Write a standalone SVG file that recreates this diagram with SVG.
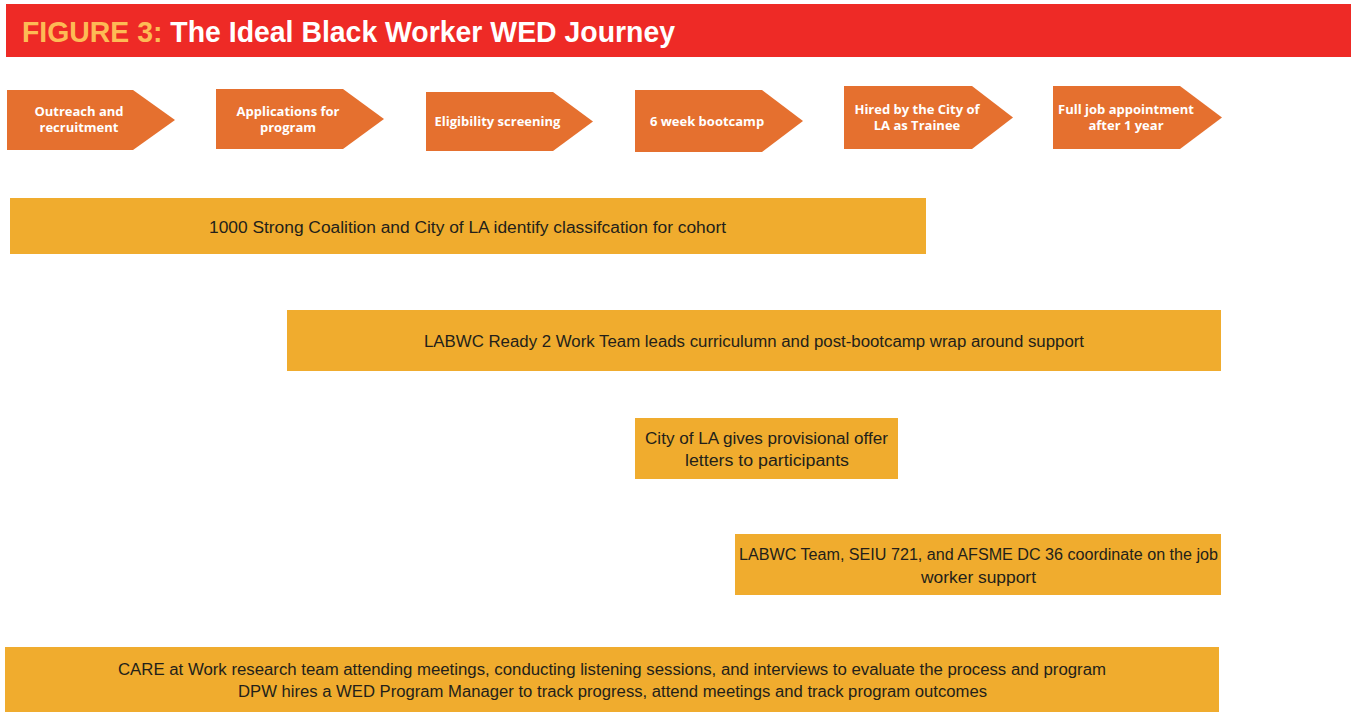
<svg xmlns="http://www.w3.org/2000/svg" width="1351" height="712" viewBox="0 0 1351 712">
<style>
.step{fill:#E5702F}
.stxt{font-family:"Open Sans","Liberation Sans",sans-serif;font-weight:700;font-size:13px;fill:#ffffff;text-anchor:middle}
.bar{fill:#F0AC2E}
.btxt{font-family:"Liberation Sans",Arial,sans-serif;font-size:16px;fill:#231f1a;text-anchor:middle}
</style>
<rect x="0" y="0" width="1351" height="712" fill="#ffffff"/>
<g id="title">
<rect x="6" y="4" width="1345" height="53" fill="#EE2A26"/>
<text x="22" y="42" font-family="'Liberation Sans',Arial,sans-serif" font-weight="700" font-size="30" textLength="653" lengthAdjust="spacingAndGlyphs"><tspan fill="#FDBB55">FIGURE 3:</tspan><tspan fill="#ffffff"> The Ideal Black Worker WED Journey</tspan></text>
</g>
<g id="connectors"></g>
<g id="step1">
<polygon class="step" points="7,90 133,90 175,120 133,150 7,150"/>
<text class="stxt" x="79" y="116">Outreach and</text>
<text class="stxt" x="79" y="132">recruitment</text>
</g>
<g id="step2">
<polygon class="step" points="216,89 343,89 384,119 343,149 216,149"/>
<text class="stxt" x="288" y="116">Applications for</text>
<text class="stxt" x="288" y="132">program</text>
</g>
<g id="step3">
<polygon class="step" points="426,92 553,92 593,121.5 553,151 426,151"/>
<text class="stxt" x="497.5" y="126">Eligibility screening</text>
</g>
<g id="step4">
<polygon class="step" points="635,90 762,90 803,121 762,152 635,152"/>
<text class="stxt" x="707" y="126">6 week bootcamp</text>
</g>
<g id="step5">
<polygon class="step" points="844,86 972,86 1013,117.5 972,149 844,149"/>
<text class="stxt" x="917" y="114">Hired by the City of</text>
<text class="stxt" x="917" y="130">LA as Trainee</text>
</g>
<g id="step6">
<polygon class="step" points="1053,86 1180,86 1222,117.5 1180,149 1053,149"/>
<text class="stxt" x="1126" y="114">Full job appointment</text>
<text class="stxt" x="1126" y="130">after 1 year</text>
</g>
<g id="bar1">
<rect class="bar" x="10" y="198" width="916" height="56"/>
<text class="btxt" x="467.5" y="233" textLength="517" lengthAdjust="spacingAndGlyphs">1000 Strong Coalition and City of LA identify classifcation for cohort</text>
</g>
<g id="bar2">
<rect class="bar" x="287" y="310" width="934" height="61"/>
<text class="btxt" x="754" y="347" textLength="660" lengthAdjust="spacingAndGlyphs">LABWC Ready 2 Work Team leads curriculumn and post-bootcamp wrap around support</text>
</g>
<g id="bar3">
<rect class="bar" x="635" y="418" width="263" height="61"/>
<text class="btxt" x="766.5" y="444" textLength="243" lengthAdjust="spacingAndGlyphs">City of LA gives provisional offer</text>
<text class="btxt" x="767" y="466" textLength="164" lengthAdjust="spacingAndGlyphs">letters to participants</text>
</g>
<g id="bar4">
<rect class="bar" x="735" y="534" width="486" height="61"/>
<text class="btxt" x="978.5" y="560" textLength="479" lengthAdjust="spacingAndGlyphs">LABWC Team, SEIU 721, and AFSME DC 36 coordinate on the job</text>
<text class="btxt" x="978.5" y="583" textLength="115" lengthAdjust="spacingAndGlyphs">worker support</text>
</g>
<g id="bar5">
<rect class="bar" x="5" y="647" width="1214" height="65"/>
<text class="btxt" x="612" y="675" textLength="988" lengthAdjust="spacingAndGlyphs">CARE at Work research team attending meetings, conducting listening sessions, and interviews to evaluate the process and program</text>
<text class="btxt" x="612.5" y="697" textLength="749" lengthAdjust="spacingAndGlyphs">DPW hires a WED Program Manager to track progress, attend meetings and track program outcomes</text>
</g>
</svg>
